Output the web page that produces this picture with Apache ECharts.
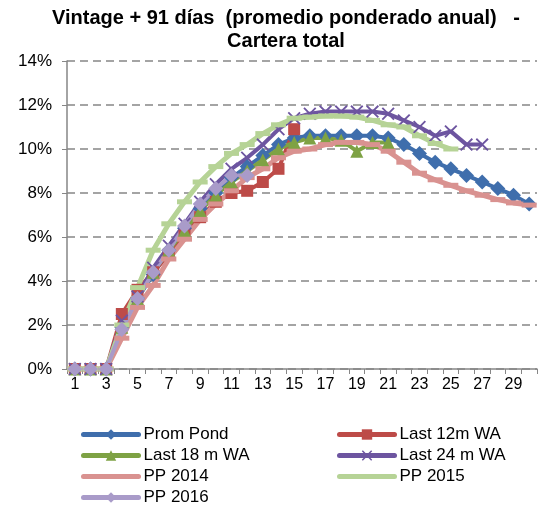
<!DOCTYPE html>
<html>
<head>
<meta charset="utf-8">
<script src="https://cdn.jsdelivr.net/npm/echarts@6/dist/echarts.min.js"></script>
<style>
  html, body { margin: 0; padding: 0; background: #fff; }
  #chart { width: 547px; height: 508px; }
</style>
</head>
<body>
<div id="chart"></div>
<script>
// meses de maduración 1..30
const months = Array.from({ length: 30 }, (_, i) => String(i + 1));

const promPond = [0, 0, 0, 1.9, 3.2, 4.3, 5.4, 6.4, 7.3, 8.0, 8.7, 9.2, 9.7, 10.2, 10.5, 10.6, 10.6, 10.6, 10.6, 10.6, 10.5, 10.2, 9.8, 9.4, 9.1, 8.8, 8.5, 8.2, 7.9, 7.5];
const last12 = [0, 0, 0, 2.5, 3.6, 4.4, 5.2, 6.1, 6.9, 7.6, 8.0, 8.1, 8.5, 9.1, 10.9];
const last18 = [0, 0, 0, 1.9, 3.2, 4.4, 5.4, 6.3, 7.2, 7.9, 8.5, 9.0, 9.5, 10.0, 10.3, 10.5, 10.5, 10.4, 9.9, 10.3, 10.3];
const last24 = [0, 0, 0, 2.2, 3.3, 4.6, 5.6, 6.6, 7.6, 8.4, 9.1, 9.6, 10.2, 10.9, 11.4, 11.6, 11.7, 11.7, 11.7, 11.7, 11.6, 11.3, 11.0, 10.6, 10.8, 10.2, 10.2];
const pp2014 = [0, 0, 0, 1.4, 2.8, 3.8, 5.0, 5.9, 6.8, 7.5, 8.1, 8.7, 9.1, 9.6, 9.9, 10.0, 10.2, 10.3, 10.3, 10.2, 9.9, 9.4, 8.9, 8.6, 8.35, 8.1, 7.9, 7.7, 7.55, 7.45];
const pp2015 = [0, 0, 0, 2.0, 3.7, 5.4, 6.6, 7.6, 8.5, 9.2, 9.8, 10.2, 10.7, 11.1, 11.4, 11.45, 11.5, 11.5, 11.45, 11.3, 11.1, 11.0, 10.6, 10.25, 10.0];
const pp2016 = [0, 0, 0, 1.8, 3.2, 4.4, 5.4, 6.5, 7.5, 8.2, 8.8, 8.8];

const crossPath = 'path://M0,1L1,0L5,4L9,0L10,1L6,5L10,9L9,10L5,6L1,10L0,9L4,5Z';
const font = 'Liberation Sans, Arial, sans-serif';

function line(name, data, color, symbol, size, width) {
  return {
    name: name,
    type: 'line',
    data: data,
    symbol: symbol,
    symbolSize: size,
    showAllSymbol: true,
    lineStyle: { color: color, width: width },
    itemStyle: { color: color },
    emphasis: { disabled: true }
  };
}

// una leyenda por elemento, en dos columnas
function legendItem(name, left, top, hideSymbol) {
  const item = { name: name };
  if (hideSymbol) item.itemStyle = { opacity: 0 };
  return {
    data: [item],
    left: left,
    top: top,
    padding: 0,
    itemWidth: 55,
    itemHeight: 13,
    lineStyle: { width: 5, cap: 'round' },
    textStyle: { fontFamily: font, fontSize: 17, color: '#000' }
  };
}

const chart = echarts.init(document.getElementById('chart'));
chart.setOption({
  animation: false,
  title: {
    text: 'Vintage + 91 días  (promedio ponderado anual)   -\nCartera total',
    left: 286,
    top: 7,
    padding: 0,
    textAlign: 'center',
    textStyle: { fontFamily: font, fontSize: 20, fontWeight: 'bold', color: '#000', lineHeight: 23 }
  },
  legend: [
    legendItem('Prom Pond', 81, 426, false),
    legendItem('Last 18 m WA', 81, 447, false),
    legendItem('PP 2014', 81, 468, true),
    legendItem('PP 2016', 81, 489, false),
    legendItem('Last 12m WA', 337, 426, false),
    legendItem('Last 24 m WA', 337, 447, false),
    legendItem('PP 2015', 337, 468, true)
  ],
  grid: { left: 67, right: 10, top: 61, bottom: 139 },
  xAxis: {
    type: 'category',
    data: months,
    boundaryGap: true,
    axisLine: { lineStyle: { color: '#868686', width: 1.5 } },
    axisTick: { show: true, interval: 0, length: 5, lineStyle: { color: '#868686' } },
    axisLabel: { interval: 1, color: '#000', fontFamily: font, fontSize: 16, margin: 8 }
  },
  yAxis: {
    type: 'value',
    min: 0, max: 14, interval: 2,
    axisLine: { show: true, lineStyle: { color: '#868686', width: 1.5 } },
    axisTick: { show: true, length: 5, lineStyle: { color: '#868686' } },
    axisLabel: { formatter: '{value}%', color: '#000', fontFamily: font, fontSize: 17, margin: 15 },
    splitLine: { lineStyle: { color: '#868686', width: 1.5, type: [8, 5] } }
  },
  series: [
    line('Prom Pond', promPond, '#3F6EAC', 'diamond', 15, 4),
    line('Last 12m WA', last12, '#BD4B48', 'rect', 12, 4),
    line('Last 18 m WA', last18, '#7EA244', 'triangle', 13, 4),
    line('Last 24 m WA', last24, '#6D55A0', crossPath, 13, 4),
    line('PP 2014', pp2014, '#D99290', 'rect', [15, 5], 5),
    line('PP 2015', pp2015, '#B6D396', 'rect', [15, 5], 5),
    line('PP 2016', pp2016, '#A99BC9', 'diamond', 15, 4)
  ]
});
</script>
</body>
</html>
